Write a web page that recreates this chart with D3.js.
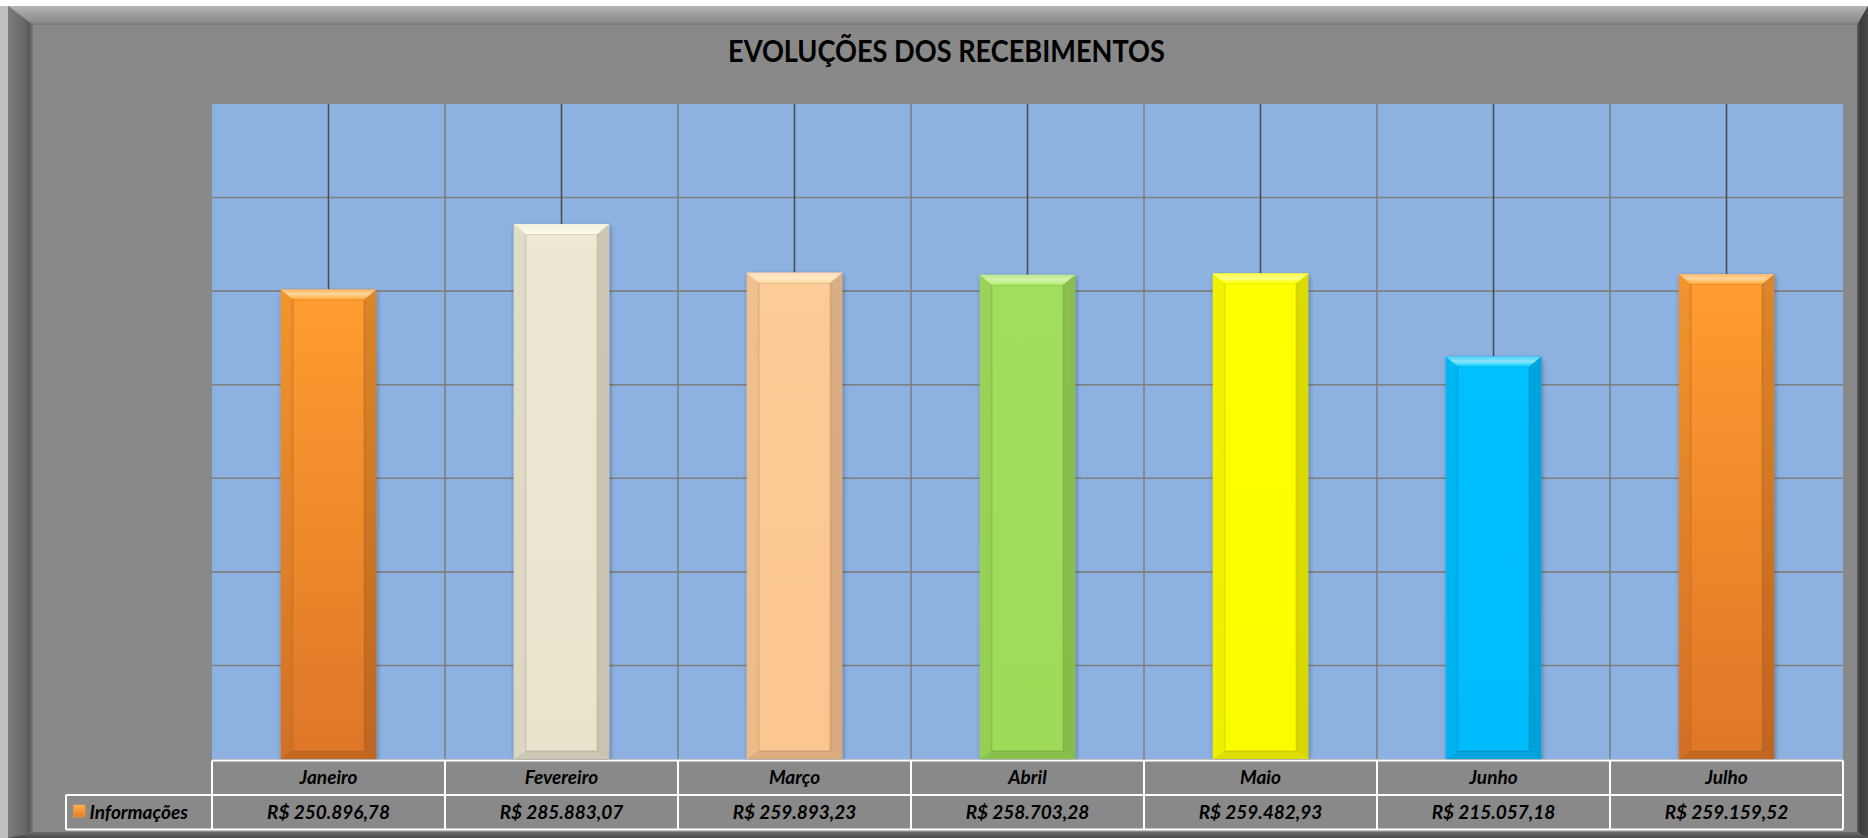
<!DOCTYPE html>
<html>
<head>
<meta charset="utf-8">
<script src="https://cdn.jsdelivr.net/npm/d3@7"></script>
<style>
html,body{margin:0;padding:0;background:#ffffff;}
svg{display:block;}
text{font-family:Lato,"Open Sans",sans-serif;}
</style>
</head>
<body>
<script>
// ---- data ----
const title = "EVOLUÇÕES DOS RECEBIMENTOS";
const seriesName = "Informações";
const months = ["Janeiro","Fevereiro","Março","Abril","Maio","Junho","Julho"];
const values = [250896.78, 285883.07, 259893.23, 258703.28, 259482.93, 215057.18, 259159.52];
const yTicks = [0, 50000, 100000, 150000, 200000, 250000, 300000, 350000];

// ---- styles ----
const barTop    = ["#ff9d30","#eee9d3","#fdcb98","#a2de5e","#ffff00","#00c0ff","#ff9d30"];
const barBottom = ["#de7628","#e9e3cc","#fbc590","#9ddb58","#fcfc00","#00bcfc","#de7628"];

// ---- layout ----
const W = 1868, H = 838;
const plot = {left: 212, right: 1843, top: 104, bottom: 759};

const svg = d3.select("body").append("svg").attr("width", W).attr("height", H);
const defs = svg.append("defs");

// frame
svg.append("rect").attr("x",0).attr("y",0).attr("width",W).attr("height",H).attr("fill","#ffffff");
svg.append("rect").attr("x",0).attr("y",6).attr("width",10).attr("height",H-6).attr("fill","#c0c0c0");
svg.append("rect").attr("x",8).attr("y",6).attr("width",W-8).attr("height",H-6).attr("fill","#898989");

function lin(id, stops, vertical){
  const g = defs.append("linearGradient").attr("id", id)
    .attr("x1",0).attr("y1",0).attr("x2", vertical?0:1).attr("y2", vertical?1:0);
  stops.forEach(s => g.append("stop").attr("offset", s[0]).attr("stop-color", s[1]));
}
lin("gTop", [[0,"#b4b4b4"],[0.35,"#a2a2a2"],[0.8,"#8f8f8f"],[1,"#777777"]], true);
lin("gLeft", [[0,"#7d7d7d"],[0.6,"#6a6a6a"],[0.85,"#5a5a5a"],[1,"#7a7a7a"]], false);
lin("gRight", [[0,"#5e5e5e"],[0.3,"#3a3a3a"],[1,"#4a4a4a"]], false);
lin("gBottom", [[0,"#6a6a6a"],[1,"#4a4a4a"]], true);

svg.append("polygon").attr("points", [[8,6],[W,6],[1857,25],[33,25]].join(" ")).attr("fill","url(#gTop)");
svg.append("polygon").attr("points", [[8,6],[33,25],[33,832],[8,838]].join(" ")).attr("fill","url(#gLeft)");
svg.append("polygon").attr("points", [[W,6],[1857,25],[1857,832],[W,838]].join(" ")).attr("fill","url(#gRight)");
svg.append("polygon").attr("points", [[8,838],[33,832],[1857,832],[W,838]].join(" ")).attr("fill","url(#gBottom)");

// title
const titleText = svg.append("text")
  .attr("x", 0).attr("y", 0)
  .attr("text-anchor","middle")
  .attr("font-weight","bold")
  .attr("font-size", 29.5)
  .attr("fill","#000000")
  .text(title);
{
  const w = titleText.node().getComputedTextLength();
  titleText.attr("transform", `translate(946.5,61.5) scale(${437 / w},1)`);
}

// scales
const x = d3.scaleBand().domain(months).range([plot.left, plot.right]).paddingInner(0).paddingOuter(0);
const y = d3.scaleLinear().domain([yTicks[0], yTicks[yTicks.length-1]]).range([plot.bottom, plot.top]);

// plot background
svg.append("rect").attr("x", plot.left).attr("y", plot.top)
  .attr("width", plot.right - plot.left).attr("height", plot.bottom - plot.top)
  .attr("fill","#8db2e2");

// horizontal gridlines
svg.append("g").selectAll("line").data(yTicks.slice(1, -1))
  .join("line")
  .attr("x1", plot.left).attr("x2", plot.right)
  .attr("y1", d => y(d)).attr("y2", d => y(d))
  .attr("stroke","#7f7f7f").attr("stroke-width",1.6);

// vertical category boundaries
svg.append("g").selectAll("line").data(months.slice(1))
  .join("line")
  .attr("x1", d => x(d)).attr("x2", d => x(d))
  .attr("y1", plot.top).attr("y2", plot.bottom)
  .attr("stroke","#7f7f7f").attr("stroke-width",1.6);

// drop lines from top to bars
svg.append("g").selectAll("line").data(months)
  .join("line")
  .attr("x1", d => x(d) + x.bandwidth()/2).attr("x2", d => x(d) + x.bandwidth()/2)
  .attr("y1", plot.top).attr("y2", (d,i) => y(values[i]))
  .attr("stroke","#4d4d4d").attr("stroke-width",1.6);

// bar shadow filter
const f = defs.append("filter").attr("id","shadow").attr("x","-20%").attr("y","-5%").attr("width","140%").attr("height","115%");
f.append("feGaussianBlur").attr("in","SourceAlpha").attr("stdDeviation",2.5);
f.append("feOffset").attr("dx",1).attr("dy",2).attr("result","ob");
f.append("feComponentTransfer").append("feFuncA").attr("type","linear").attr("slope",0.35);
const fm = f.append("feMerge");
fm.append("feMergeNode");
fm.append("feMergeNode").attr("in","SourceGraphic");

// bars
const barW = x.bandwidth() * 0.41;
const bevS = 12, bevT = 10, bevB = 8;
const barsG = svg.append("g");
months.forEach((m, i) => {
  const c = d3.interpolateRgb(barTop[i], barBottom[i])(0.5);
  const x0 = x(m) + (x.bandwidth() - barW) / 2, x1 = x0 + barW;
  const y0 = y(values[i]), y1 = y(0);
  const gid = "bg" + i;
  lin(gid, [[0, barTop[i]],[1, barBottom[i]]], true);
  const g = barsG.append("g").attr("filter","url(#shadow)");
  g.append("rect").attr("x", x0).attr("y", y0).attr("width", barW).attr("height", y1 - y0)
    .attr("fill", `url(#${gid})`);
  // inner edge line
  g.append("rect").attr("x", x0 + bevS).attr("y", y0 + bevT).attr("width", barW - 2*bevS).attr("height", y1 - y0 - bevT - bevB)
    .attr("fill","none").attr("stroke", d3.color(c).darker(0.6).formatHex()).attr("stroke-opacity",0.4).attr("stroke-width",2);
  // top bevel
  const tid = "bt" + i;
  lin(tid, [[0, d3.interpolateRgb(barTop[i], "#ffffff")(0.3)],[0.5, d3.interpolateRgb(barTop[i], "#ffffee")(0.55)],[1, d3.color(barTop[i]).brighter(0.25).formatHex()]], true);
  g.append("polygon").attr("points", [[x0,y0],[x1,y0],[x1-bevS,y0+bevT],[x0+bevS,y0+bevT]].join(" "))
    .attr("fill", `url(#${tid})`);
  // left bevel
  g.append("polygon").attr("points", [[x0,y0],[x0+bevS,y0+bevT],[x0+bevS,y1-bevB],[x0,y1]].join(" "))
    .attr("fill", "#000000").attr("opacity",0.05);
  // right bevel
  g.append("polygon").attr("points", [[x1,y0],[x1-bevS,y0+bevT],[x1-bevS,y1-bevB],[x1,y1]].join(" "))
    .attr("fill", "#000000").attr("opacity",0.14);
  // bottom bevel
  g.append("polygon").attr("points", [[x0,y1],[x0+bevS,y1-bevB],[x1-bevS,y1-bevB],[x1,y1]].join(" "))
    .attr("fill", "#000000").attr("opacity",0.12);
});

// data table
const row1 = {top: 760.5, bottom: 795}, row2 = {top: 795, bottom: 829.5};
const legendLeft = 66;
const tbl = svg.append("g");
tbl.append("rect").attr("x", plot.left).attr("y", row1.top).attr("width", plot.right - plot.left).attr("height", row2.bottom - row1.top).attr("fill","#898989");
tbl.append("rect").attr("x", legendLeft).attr("y", row2.top).attr("width", plot.left - legendLeft).attr("height", row2.bottom - row2.top).attr("fill","#898989");
const lineStyle = s => s.attr("stroke","#ffffff").attr("stroke-width",2);
tbl.append("line").attr("x1", plot.left).attr("x2", plot.right).attr("y1", row1.top).attr("y2", row1.top).call(lineStyle);
tbl.append("line").attr("x1", legendLeft).attr("x2", plot.right).attr("y1", row2.top).attr("y2", row2.top).call(lineStyle);
tbl.append("line").attr("x1", legendLeft).attr("x2", plot.right).attr("y1", row2.bottom).attr("y2", row2.bottom).call(lineStyle);
tbl.append("line").attr("x1", legendLeft).attr("x2", legendLeft).attr("y1", row2.top).attr("y2", row2.bottom).call(lineStyle);
tbl.selectAll("line.v").data(months.concat(["__end"])).join("line").attr("class","v")
  .attr("x1", d => d === "__end" ? plot.right : x(d)).attr("x2", d => d === "__end" ? plot.right : x(d))
  .attr("y1", row1.top).attr("y2", row2.bottom).call(lineStyle);

const ptBR = d3.formatLocale({decimal: ",", thousands: ".", grouping: [3], currency: ["R$ ", ""]});
const fmt = ptBR.format("$,.2f");
const cellText = (g, txt, cx, by, anchor) => g.append("text")
  .attr("x", cx).attr("y", by)
  .attr("text-anchor", anchor || "middle")
  .attr("font-weight","bold").attr("font-style","italic")
  .attr("font-size", 19).attr("fill","#000000").text(txt);

months.forEach((m, i) => {
  const cx = x(m) + x.bandwidth()/2;
  cellText(tbl, m, cx, 783.5);
  cellText(tbl, fmt(values[i]), cx, 818.5);
});

// legend
lin("legG", [[0,"#ffb050"],[1,"#e47a22"]], true);
tbl.append("rect").attr("x", 73.5).attr("y", 805).attr("width", 11.5).attr("height", 12).attr("fill","url(#legG)")
  .attr("stroke","#f0a040").attr("stroke-width",0.6);
cellText(tbl, seriesName, 89.5, 818.5, "start");
</script>
</body>
</html>
